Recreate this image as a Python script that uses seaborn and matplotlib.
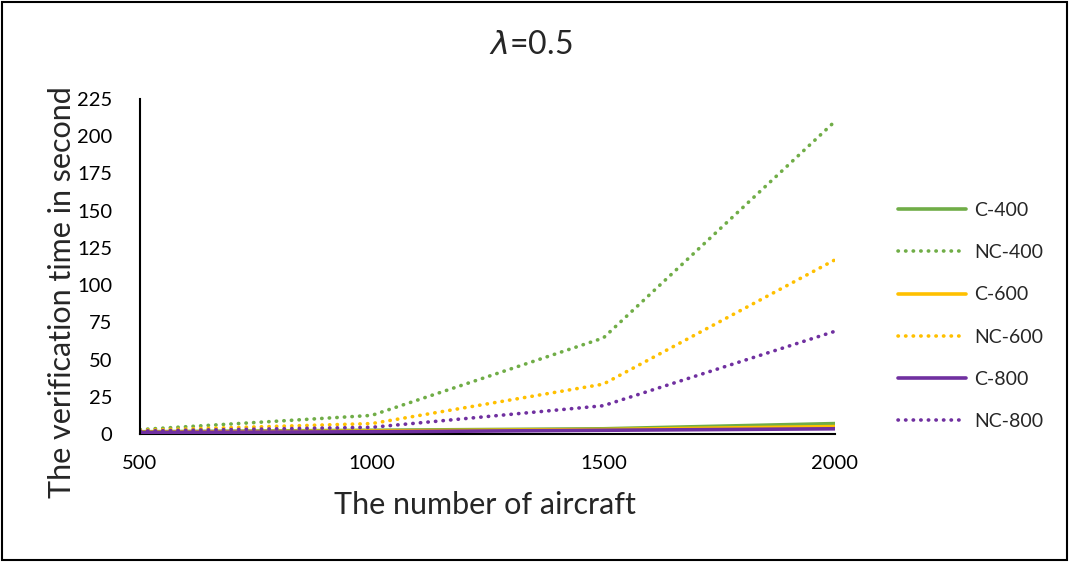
import pandas as pd
import seaborn as sns
import matplotlib.pyplot as plt
from matplotlib.patches import Rectangle

# aircraft counts on the x axis
aircraft = [500, 1000, 1500, 2000]

# verification time in seconds
c_400 = [1.5, 2.5, 3.5, 7]
nc_400 = [3, 12.5, 64.5, 210]
c_600 = [1.2, 2, 3, 5]
nc_600 = [2.5, 7, 33.5, 117]
c_800 = [1, 1.5, 2.5, 3.5]
nc_800 = [2, 4.5, 19, 69]

series_names = ['C-400', 'NC-400', 'C-600', 'NC-600', 'C-800', 'NC-800']
series_values = [c_400, nc_400, c_600, nc_600, c_800, nc_800]

green, gold, purple = '#70AD47', '#FFC000', '#7030A0'
palette = {'C-400': green, 'NC-400': green, 'C-600': gold,
           'NC-600': gold, 'C-800': purple, 'NC-800': purple}

rows = []
for name, vals in zip(series_names, series_values):
    for x, v in zip(aircraft, vals):
        rows.append({'aircraft': x, 'time': v, 'series': name})
df = pd.DataFrame(rows)

sns.set_style('white')
plt.rcParams['font.family'] = ['Lato', 'DejaVu Sans']

dotted = (0, (0.1, 2.0))

fig = plt.figure(figsize=(10.69, 5.62), dpi=100)
ax = fig.add_axes([140 / 1069, 1 - 434 / 562, 695 / 1069, 335 / 562])

sns.lineplot(data=df, x='aircraft', y='time', hue='series', palette=palette,
             hue_order=series_names, ax=ax, legend=False, linewidth=2.6)

for line, name in zip(ax.get_lines(), series_names):
    if name.startswith('NC'):
        line.set_linestyle(dotted)
        line.set_dash_capstyle('round')
        line.set_linewidth(2.6)

ax.set_xlim(500, 2000)
ax.set_ylim(0, 225)
ax.set_xticks(aircraft)
ax.set_yticks(range(0, 226, 25))
ax.tick_params(axis='both', length=0, labelsize=14.5, colors='black')
ax.tick_params(axis='x', pad=15)
ax.tick_params(axis='y', pad=20)
ax.set_xlabel('')
ax.set_ylabel('')
for side in ['top', 'right']:
    ax.spines[side].set_visible(False)
for side in ['left', 'bottom']:
    ax.spines[side].set_color('black')
    ax.spines[side].set_linewidth(1.5)
ax.spines['bottom'].set_zorder(0)

fig.text(531 / 1069, 1 - 45 / 562, r'$\lambda$=0.5', ha='center', va='center', fontsize=23)
fig.text(485 / 1069, 1 - 505 / 562, 'The number of aircraft', ha='center', va='center', fontsize=22)
fig.text(62 / 1069, 1 - 292 / 562, 'The verification time in second', ha='center', va='center',
         rotation=90, fontsize=22)

# legend drawn as figure-level handles to match the reference spacing
handles = []
for name in series_names:
    ls = dotted if name.startswith('NC') else '-'
    handles.append(plt.Line2D([], [], color=palette[name], linestyle=ls, linewidth=2.6,
                              dash_capstyle='round'))
fig.legend(handles, series_names, loc='center left', bbox_to_anchor=(880 / 1069, 1 - 316 / 562),
           frameon=False, fontsize=14, handlelength=3.5, labelspacing=1.3, handletextpad=0.45)

fig.patches.append(Rectangle((0.002, 0.003), 0.996, 0.994, transform=fig.transFigure,
                             fill=False, edgecolor='black', linewidth=1.5))

fig.savefig('out.png', dpi=100)
